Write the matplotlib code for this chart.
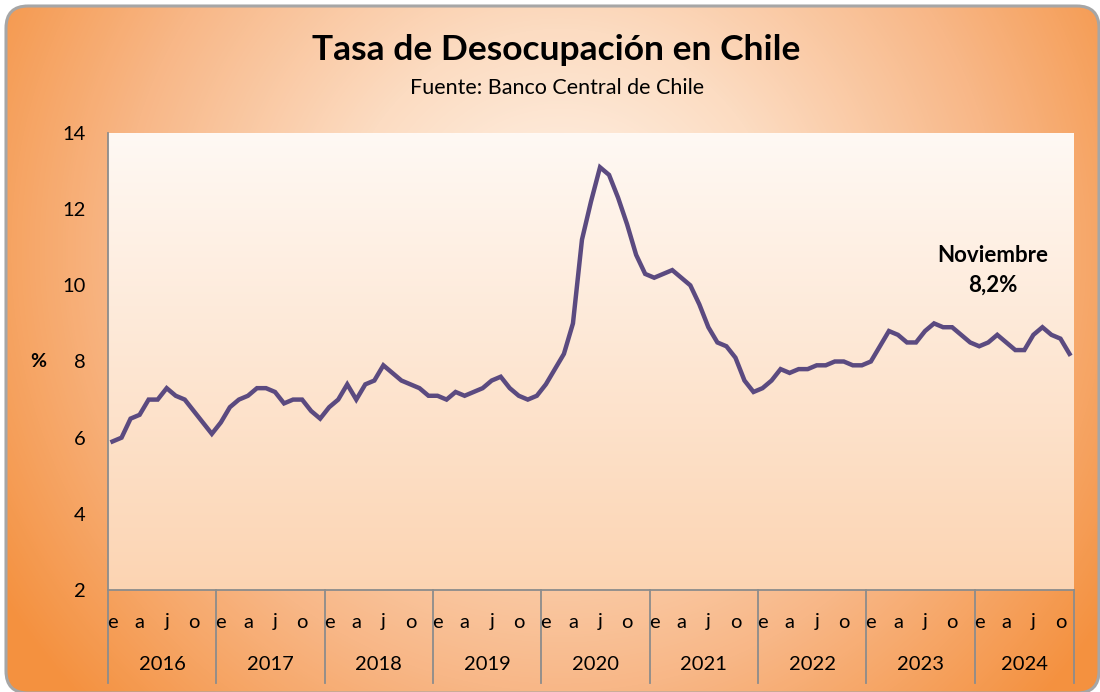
import numpy as np
import matplotlib
matplotlib.use("Agg")
import matplotlib.pyplot as plt
from matplotlib.patches import FancyBboxPatch
from matplotlib.colors import LinearSegmentedColormap
import matplotlib.transforms as mtransforms

plt.rcParams['font.family'] = ['Lato', 'DejaVu Sans']

# Data: tasa de desocupacion mensual (%), enero 2016 - noviembre 2024
years = ['2016', '2017', '2018', '2019', '2020', '2021', '2022', '2023', '2024']
month_letters = ['e', 'a', 'j', 'o']
month_letter_pos = [0, 3, 6, 9]
tasa = [
    5.9, 6.0, 6.5, 6.6, 7.0, 7.0, 7.3, 7.1, 7.0, 6.7, 6.4, 6.1,       # 2016
    6.4, 6.8, 7.0, 7.1, 7.3, 7.3, 7.2, 6.9, 7.0, 7.0, 6.7, 6.5,       # 2017
    6.8, 7.0, 7.4, 7.0, 7.4, 7.5, 7.9, 7.7, 7.5, 7.4, 7.3, 7.1,       # 2018
    7.1, 7.0, 7.2, 7.1, 7.2, 7.3, 7.5, 7.6, 7.3, 7.1, 7.0, 7.1,       # 2019
    7.4, 7.8, 8.2, 9.0, 11.2, 12.2, 13.1, 12.9, 12.3, 11.6, 10.8, 10.3,  # 2020
    10.2, 10.3, 10.4, 10.2, 10.0, 9.5, 8.9, 8.5, 8.4, 8.1, 7.5, 7.2,  # 2021
    7.3, 7.5, 7.8, 7.7, 7.8, 7.8, 7.9, 7.9, 8.0, 8.0, 7.9, 7.9,       # 2022
    8.0, 8.4, 8.8, 8.7, 8.5, 8.5, 8.8, 9.0, 8.9, 8.9, 8.7, 8.5,       # 2023
    8.4, 8.5, 8.7, 8.5, 8.3, 8.3, 8.7, 8.9, 8.7, 8.6, 8.2,            # 2024
]
y_ticks = [2, 4, 6, 8, 10, 12, 14]

n = len(tasa)
x = np.arange(n)

W, H = 1100, 692
fig = plt.figure(figsize=(W / 100, H / 100), dpi=100)
fig.patch.set_facecolor('white')

# Background: rounded frame with radial orange gradient
bg = fig.add_axes([0, 0, 1, 1], zorder=0)
bg.set_xlim(0, W)
bg.set_ylim(H, 0)
bg.axis('off')
yy, xx = np.mgrid[0:H, 0:W]
d = np.sqrt((xx - 560) ** 2 + (yy - 250) ** 2) / 660
d = np.clip(d, 0, 1)
cmap_bg = LinearSegmentedColormap.from_list('bg', ['#FFF5EC', '#FCDCC2', '#F8B787', '#F4913F'])
im = bg.imshow(d, cmap=cmap_bg, extent=(0, W, H, 0), aspect='auto', vmin=0, vmax=1)
frame = FancyBboxPatch((6, 6), W - 7, H - 5, boxstyle='round,pad=0,rounding_size=22',
                       facecolor='none', edgecolor='#A6A6A6', linewidth=2.2)
bg.add_patch(frame)
im.set_clip_path(frame)

# Plot area
left, right, top, bottom = 108, 1074, 133, 590
ax = fig.add_axes([left / W, 1 - bottom / H, (right - left) / W, (bottom - top) / H], zorder=1)
grad = np.linspace(0, 1, 256).reshape(-1, 1)
cmap_pa = LinearSegmentedColormap.from_list('pa', ['#FFF9F4', '#FCD4B2'])
ax.imshow(grad, cmap=cmap_pa, extent=(-0.5, n - 0.5, 2, 14), origin='upper',
          aspect='auto', zorder=0)

ax.plot(x, tasa, color='#5B4A80', linewidth=3.2, solid_joinstyle='miter', zorder=3)

ax.set_xlim(-0.5, n - 0.5)
ax.set_ylim(2, 14)
ax.set_yticks(y_ticks)
ax.tick_params(axis='y', length=0, pad=16, labelsize=14.5)
ax.set_xticks([])
for s in ['top', 'right']:
    ax.spines[s].set_visible(False)
ax.spines['left'].set_color('#8C8C8C')
ax.spines['bottom'].set_color('#8C8C8C')
ax.spines['left'].set_linewidth(1.3)
ax.spines['bottom'].set_linewidth(1.3)

trans = mtransforms.blended_transform_factory(ax.transData, ax.transAxes)
ext = -(683 - bottom) / (bottom - top)

# Category axis: month letters, years, separators
for k, yr in enumerate(years):
    start = 12 * k
    for pos, lbl in zip(month_letter_pos, month_letters):
        if start + pos < n:
            ax.text(start + pos, -(622 - bottom) / (bottom - top), lbl, transform=trans,
                    ha='center', va='center', fontsize=14.5, clip_on=False)
    end = min(start + 12, n)
    ax.text((start + end - 1) / 2, -(665 - bottom) / (bottom - top), yr, transform=trans,
            ha='center', va='center', fontsize=14.5, clip_on=False)
    ax.plot([start - 0.5, start - 0.5], [0, ext], transform=trans, color='#8C8C8C',
            linewidth=1.3, clip_on=False)
ax.plot([n - 0.5, n - 0.5], [0, ext], transform=trans, color='#8C8C8C',
        linewidth=1.3, clip_on=False)

ax.text(-0.072, 8, '%', transform=mtransforms.blended_transform_factory(ax.transAxes, ax.transData),
        ha='center', va='center', fontsize=14, fontweight='bold')

fig.text(993 / W, 1 - 255 / H, 'Noviembre', ha='center', va='center',
         fontsize=16, fontweight='bold')
fig.text(993 / W, 1 - 285 / H, '8,2%', ha='center', va='center',
         fontsize=16, fontweight='bold')

fig.text(556 / W, 1 - 50 / H, 'Tasa de Desocupación en Chile', ha='center', va='center',
         fontsize=25.5, fontweight='bold')
fig.text(557 / W, 1 - 88 / H, 'Fuente: Banco Central de Chile', ha='center', va='center',
         fontsize=15.5)

fig.savefig('out.png', dpi=100)
